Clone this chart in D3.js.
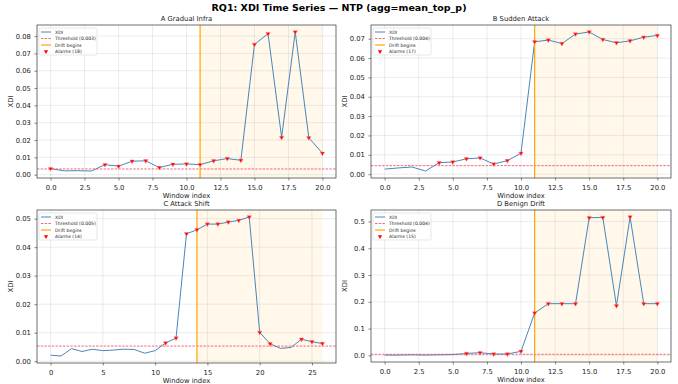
<!DOCTYPE html>
<html>
<head>
<meta charset="utf-8">
<script src="https://cdn.jsdelivr.net/npm/d3@7"></script>
<style>
  body { margin: 0; background: #fff; }
  svg { font-family: "DejaVu Sans", sans-serif; }
</style>
</head>
<body>
<svg id="chart" width="678" height="384"></svg>
<script>
// panel A: Gradual Infra
const xdiA = [0.0035, 0.0022, 0.0023, 0.0021, 0.0058, 0.0049, 0.0078, 0.0080, 0.0041, 0.0060, 0.0062,
  0.0058, 0.0080, 0.0093, 0.0083, 0.0752, 0.0814, 0.0215, 0.0824, 0.0213, 0.0124];
const alarmsA = [0, 4, 5, 6, 7, 8, 9, 10, 11, 12, 13, 14, 15, 16, 17, 18, 19, 20];
// panel B: Sudden Attack
const xdiB = [0.0026, 0.0032, 0.0037, 0.0016, 0.0059, 0.0063, 0.0079, 0.0084, 0.0052, 0.0070, 0.0108,
  0.0684, 0.0693, 0.0675, 0.0724, 0.0735, 0.0696, 0.0679, 0.0689, 0.0708, 0.0717];
const alarmsB = [4, 5, 6, 7, 8, 9, 10, 11, 12, 13, 14, 15, 16, 17, 18, 19, 20];
// panel C: Attack Shift
const xdiC = [0.0021, 0.0018, 0.0044, 0.0034, 0.0042, 0.0037, 0.0039, 0.0042, 0.0041, 0.0028, 0.0037,
  0.0064, 0.0081, 0.0447, 0.0461, 0.0481, 0.0481, 0.0488, 0.0494, 0.0506, 0.0101,
  0.0061, 0.0045, 0.0048, 0.0077, 0.0068, 0.0062];
const alarmsC = [11, 12, 13, 14, 15, 16, 17, 18, 19, 20, 21, 24, 25, 26];
// panel D: Benign Drift
const xdiD = [0.001, 0.001, 0.002, 0.001, 0.002, 0.003, 0.007, 0.010, 0.005, 0.005, 0.015,
  0.158, 0.193, 0.193, 0.193, 0.514, 0.515, 0.185, 0.517, 0.193, 0.193];
const alarmsD = [6, 7, 8, 9, 10, 11, 12, 13, 14, 15, 16, 17, 18, 19, 20];

const titles = ["A Gradual Infra", "B Sudden Attack", "C Attack Shift", "D Benign Drift"];
const thresholds = [0.0033, 0.0044, 0.0053, 0.0040];
const thresholdLabels = ["0.003", "0.004", "0.005", "0.004"];
const driftStart = [11, 11, 14, 11];
const yTicksA = [0, 0.01, 0.02, 0.03, 0.04, 0.05, 0.06, 0.07, 0.08];
const yTicksB = [0, 0.01, 0.02, 0.03, 0.04, 0.05, 0.06, 0.07];
const yTicksC = [0, 0.01, 0.02, 0.03, 0.04, 0.05];
const yTicksD = [0, 0.1, 0.2, 0.3, 0.4, 0.5];
const xTicksHalf = [0, 2.5, 5, 7.5, 10, 12.5, 15, 17.5, 20];
const xTicksC = [0, 5, 10, 15, 20, 25];

const panels = [
  { xdi: xdiA, alarms: alarmsA, yTicks: yTicksA, yFmt: ".2f", xTicks: xTicksHalf, xFmt: ".1f", box: [37, 25, 336, 178] },
  { xdi: xdiB, alarms: alarmsB, yTicks: yTicksB, yFmt: ".2f", xTicks: xTicksHalf, xFmt: ".1f", box: [371, 25, 671, 178] },
  { xdi: xdiC, alarms: alarmsC, yTicks: yTicksC, yFmt: ".2f", xTicks: xTicksC, xFmt: "d", box: [37, 210, 336, 363] },
  { xdi: xdiD, alarms: alarmsD, yTicks: yTicksD, yFmt: ".1f", xTicks: xTicksHalf, xFmt: ".1f", box: [371, 210, 671, 362] },
];

const svg = d3.select("#chart");

svg.append("text")
  .attr("x", 339).attr("y", 11)
  .attr("text-anchor", "middle")
  .attr("font-size", 9.5).attr("font-weight", "bold")
  .text("RQ1: XDI Time Series \u2014 NTP (agg=mean_top_p)");

const lineColor = "#4a86b9";
const threshColor = "#f0465a";
const driftColor = "orange";

panels.forEach((p, i) => {
  const [x0, y0, x1, y1] = p.box;
  const n = p.xdi.length - 1;
  const xPad = n * 0.05;
  const x = d3.scaleLinear().domain([-xPad, n + xPad]).range([x0, x1]);
  const ymin = d3.min(p.xdi), ymax = d3.max(p.xdi);
  const yPad = (ymax - ymin) * 0.05;
  const y = d3.scaleLinear().domain([ymin - yPad, ymax + yPad]).range([y1, y0]);

  const g = svg.append("g");

  // shaded drift region
  g.append("rect")
    .attr("x", x(driftStart[i])).attr("y", y0)
    .attr("width", x(n) - x(driftStart[i])).attr("height", y1 - y0)
    .attr("fill", "orange").attr("fill-opacity", 0.08);

  // grid
  g.append("g")
    .selectAll("line.gx").data(p.xTicks).enter().append("line")
    .attr("x1", d => x(d)).attr("x2", d => x(d))
    .attr("y1", y0).attr("y2", y1)
    .attr("stroke", "#b0b0b0").attr("stroke-opacity", 0.3).attr("stroke-width", 0.8);
  g.append("g")
    .selectAll("line.gy").data(p.yTicks).enter().append("line")
    .attr("x1", x0).attr("x2", x1)
    .attr("y1", d => y(d)).attr("y2", d => y(d))
    .attr("stroke", "#b0b0b0").attr("stroke-opacity", 0.3).attr("stroke-width", 0.8);

  // xdi line
  g.append("path")
    .datum(p.xdi)
    .attr("fill", "none")
    .attr("stroke", lineColor).attr("stroke-width", 1)
    .attr("d", d3.line().x((d, k) => x(k)).y(d => y(d)));

  // threshold
  g.append("line")
    .attr("x1", x0).attr("x2", x1)
    .attr("y1", y(thresholds[i])).attr("y2", y(thresholds[i]))
    .attr("stroke", threshColor).attr("stroke-width", 0.8)
    .attr("stroke-dasharray", "2.5,1.2");

  // drift begins
  g.append("line")
    .attr("x1", x(driftStart[i])).attr("x2", x(driftStart[i]))
    .attr("y1", y0).attr("y2", y1)
    .attr("stroke", driftColor).attr("stroke-width", 1.2);

  // alarms
  const tri = d3.symbol().type(d3.symbolTriangle).size(8);
  g.append("g")
    .selectAll("path").data(p.alarms).enter().append("path")
    .attr("d", tri)
    .attr("transform", d => `translate(${x(d)},${y(p.xdi[d])}) rotate(180)`)
    .attr("fill", "red").attr("stroke", "#ff8080").attr("stroke-width", 0.5);

  // axes
  const ax = g.append("g")
    .attr("transform", `translate(0,${y1})`)
    .call(d3.axisBottom(x).tickValues(p.xTicks).tickFormat(d3.format(p.xFmt)).tickSize(2.5).tickSizeOuter(0));
  const ay = g.append("g")
    .attr("transform", `translate(${x0},0)`)
    .call(d3.axisLeft(y).tickValues(p.yTicks).tickFormat(d3.format(p.yFmt)).tickSize(2.5).tickSizeOuter(0));
  [ax, ay].forEach(a => {
    a.select(".domain").remove();
    a.selectAll("text").attr("font-size", 6.8).attr("fill", "#222").attr("font-family", "DejaVu Sans");
    a.selectAll("line").attr("stroke", "#333").attr("stroke-width", 0.6);
  });
  ax.selectAll("text").attr("dy", "0.9em");
  ay.selectAll("text").attr("dx", "-0.1em");

  // frame
  g.append("rect")
    .attr("x", x0).attr("y", y0).attr("width", x1 - x0).attr("height", y1 - y0)
    .attr("fill", "none").attr("stroke", "#333").attr("stroke-width", 0.7);

  // titles and labels
  g.append("text")
    .attr("x", (x0 + x1) / 2).attr("y", y0 - 4)
    .attr("text-anchor", "middle").attr("font-size", 6.8).attr("fill", "#222")
    .text(titles[i]);
  g.append("text")
    .attr("x", (x0 + x1) / 2).attr("y", y1 + 20)
    .attr("text-anchor", "middle").attr("font-size", 6.8).attr("fill", "#222")
    .text("Window index");
  g.append("text")
    .attr("transform", `translate(${x0 - 24},${(y0 + y1) / 2}) rotate(-90)`)
    .attr("text-anchor", "middle").attr("font-size", 6.8).attr("fill", "#222")
    .text("XDI");

  // legend
  const lg = g.append("g").attr("transform", `translate(${x0 + 2},${y0 + 3})`);
  lg.append("rect")
    .attr("width", 58).attr("height", 27).attr("rx", 1.5)
    .attr("fill", "white").attr("fill-opacity", 0.8)
    .attr("stroke", "#ccc").attr("stroke-width", 0.5);
  const items = ["XDI", `Threshold (${thresholdLabels[i]})`, "Drift begins", `Alarms (${p.alarms.length})`];
  items.forEach((label, k) => {
    const ly = 4 + k * 6.5;
    if (k === 0) {
      lg.append("line").attr("x1", 2).attr("x2", 12).attr("y1", ly).attr("y2", ly)
        .attr("stroke", lineColor).attr("stroke-width", 1);
    } else if (k === 1) {
      lg.append("line").attr("x1", 2).attr("x2", 12).attr("y1", ly).attr("y2", ly)
        .attr("stroke", threshColor).attr("stroke-width", 0.8).attr("stroke-dasharray", "2.5,1.2");
    } else if (k === 2) {
      lg.append("line").attr("x1", 2).attr("x2", 12).attr("y1", ly).attr("y2", ly)
        .attr("stroke", driftColor).attr("stroke-width", 1.2);
    } else {
      lg.append("path").attr("d", tri)
        .attr("transform", `translate(7,${ly}) rotate(180)`)
        .attr("fill", "red");
    }
    lg.append("text")
      .attr("x", 16).attr("y", ly).attr("dy", "0.35em")
      .attr("font-size", 4.6).attr("fill", "#222")
      .text(label);
  });
});
</script>
</body>
</html>
